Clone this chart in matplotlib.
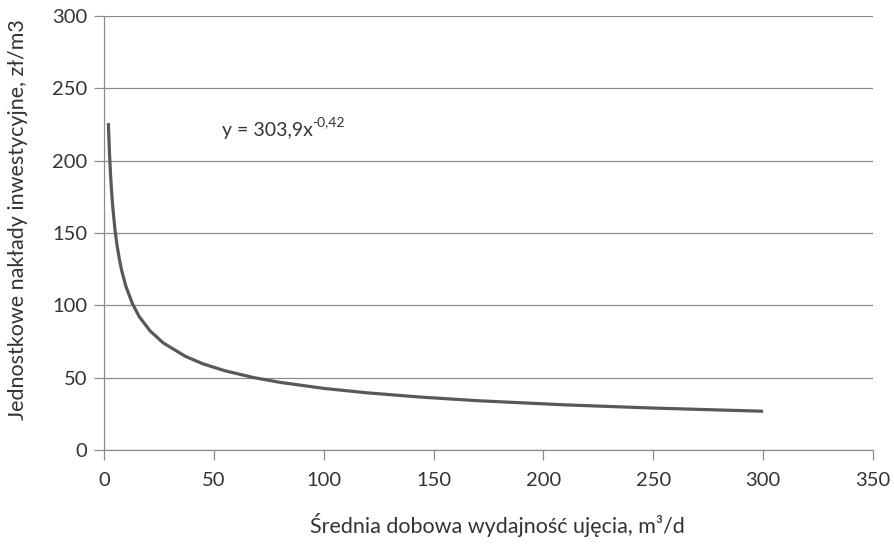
import numpy as np
from matplotlib import pyplot as plt

# Curve readings (x: m3/d, y: zl/m3)
x_vals = [2, 2.5, 3, 3.5, 4, 5, 6, 7, 8, 10, 13, 16, 21, 27, 37, 45, 55, 68,
          80, 100, 120, 143, 170, 210, 250, 300]
y_vals = [226, 205.5, 190, 178, 168, 152.5, 141, 132, 124.5, 113, 101, 92.3,
          82.3, 74, 64.8, 59.6, 54.8, 50.1, 46.8, 42.6, 39.5, 36.7, 34.1,
          31.2, 29.0, 26.8]

x_ticks = [0, 50, 100, 150, 200, 250, 300, 350]
y_ticks = [0, 50, 100, 150, 200, 250, 300]

plt.rcParams['font.family'] = ['Lato', 'DejaVu Sans']

TXT = '#333333'
GRID = '#8c8c8c'

fig = plt.figure(figsize=(8.94, 5.48), dpi=100)
ax = fig.add_axes([0.1163, 0.1788, 0.8602, 0.792])

ax.plot(x_vals, y_vals, color='#595959', lw=2.3, solid_capstyle='butt',
        solid_joinstyle='round', zorder=3)

ax.set_xlim(0, 350)
ax.set_ylim(0, 300)
ax.set_xticks(x_ticks)
ax.set_yticks(y_ticks)
ax.grid(axis='y', color=GRID, lw=0.9)
ax.set_axisbelow(True)

for s in ['top', 'right']:
    ax.spines[s].set_visible(False)
for s in ['left', 'bottom']:
    ax.spines[s].set_color(GRID)
    ax.spines[s].set_linewidth(0.9)

ax.tick_params(axis='x', length=7, width=0.9, color=GRID, labelsize=14.5,
               labelcolor=TXT, pad=9)
ax.tick_params(axis='y', length=7, width=0.9, color=GRID, labelsize=14.5,
               labelcolor=TXT, pad=5)

ax.set_xlabel('Średnia dobowa wydajność ujęcia, m³/d', fontsize=15.5,
              color=TXT, va='center')
ax.set_ylabel('Jednostkowe nakłady inwestycyjne, zł/m3', fontsize=15.5,
              color=TXT, va='center')
ax.xaxis.set_label_coords(0.511, -0.173)
ax.yaxis.set_label_coords(-0.112, 0.53)

eq = ax.text(53.5, 221, 'y = 303,9x', fontsize=14, color=TXT,
             va='center', ha='left')
ax.annotate('-0,42', xy=(1, 0.62), xycoords=eq, fontsize=10, color=TXT,
            va='bottom', ha='left')

fig.savefig('out.png', dpi=100)
